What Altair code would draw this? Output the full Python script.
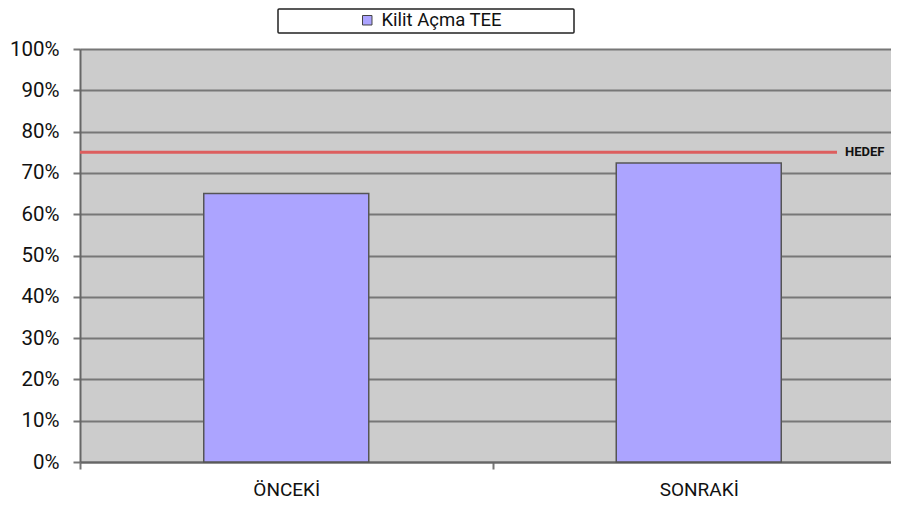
import altair as alt
import pandas as pd

categories = ["ÖNCEKİ", "SONRAKİ"]
values = [0.65, 0.724]
series_name = "Kilit Açma TEE"
target_value = 0.75
target_label = "HEDEF"

FONT = "Roboto, Noto Sans, sans-serif"

df = pd.DataFrame({"cat": categories, "val": values, "series": [series_name] * len(categories)})

x_enc = alt.X(
    "cat:N",
    sort=categories,
    scale=alt.Scale(paddingInner=0, paddingOuter=0, range=[0, 825]),
    axis=alt.Axis(
        title=None, labelAngle=0, tickBand="extent", domainColor="#666666",
        domainWidth=2, tickColor="#777777", tickWidth=2, tickSize=7,
        labelFontSize=19, labelFont=FONT, labelColor="#111111", labelPadding=11,
    ),
)

y_enc = alt.Y(
    "val:Q",
    scale=alt.Scale(domain=[0, 1], nice=False),
    axis=alt.Axis(
        title=None, format=".0%", values=[i / 10 for i in range(11)],
        grid=True, gridColor="#777777", gridWidth=2, domainColor="#666666",
        domainWidth=2, tickColor="#777777", tickWidth=2, tickSize=7,
        labelFontSize=20.5, labelFont=FONT, labelColor="#111111", labelPadding=14,
    ),
)

legend_box = alt.Chart(pd.DataFrame({"k": [0]})).mark_rect(
    fill="white", stroke="#222222", strokeWidth=1.5, cornerRadius=1
).encode(
    x=alt.value(198), x2=alt.value(494), y=alt.value(-40), y2=alt.value(-16)
)

bars = alt.Chart(df).mark_bar(
    width=alt.RelativeBandSize(0.4), stroke="#555555", strokeWidth=1.5
).encode(
    x=x_enc,
    y=y_enc,
    color=alt.Color(
        "series:N",
        scale=alt.Scale(range=["#aca4ff"]),
        legend=alt.Legend(
            title=None, orient="none", legendX=278, legendY=-38,
            symbolType="square", symbolSize=90, symbolStrokeColor="#444444",
            symbolStrokeWidth=1, labelFontSize=18.5, labelFont=FONT,
            labelColor="#111111", labelOffset=5,
        ),
    ),
)

target_df = pd.DataFrame({"y": [target_value], "label": [target_label]})
target_line = alt.Chart(target_df).mark_rule(color="#dd5e5e", strokeWidth=3).encode(
    y="y:Q", x=alt.value(0), x2=alt.value(757)
)
target_text = alt.Chart(target_df).mark_text(
    align="left", baseline="alphabetic", dy=3.5, fontSize=13, fontWeight="bold",
    font=FONT, color="#111111"
).encode(y="y:Q", x=alt.value(765), text="label:N")

chart = alt.layer(legend_box, bars, target_line, target_text).properties(
    width=811, height=413,
    autosize=alt.AutoSizeParams(type="none"),
    padding={"left": 72, "top": 41, "right": 0, "bottom": 38},
).configure_view(fill="#cccccc", stroke=None)

chart.save("out.html", embed_options={"renderer": "svg", "actions": False})
